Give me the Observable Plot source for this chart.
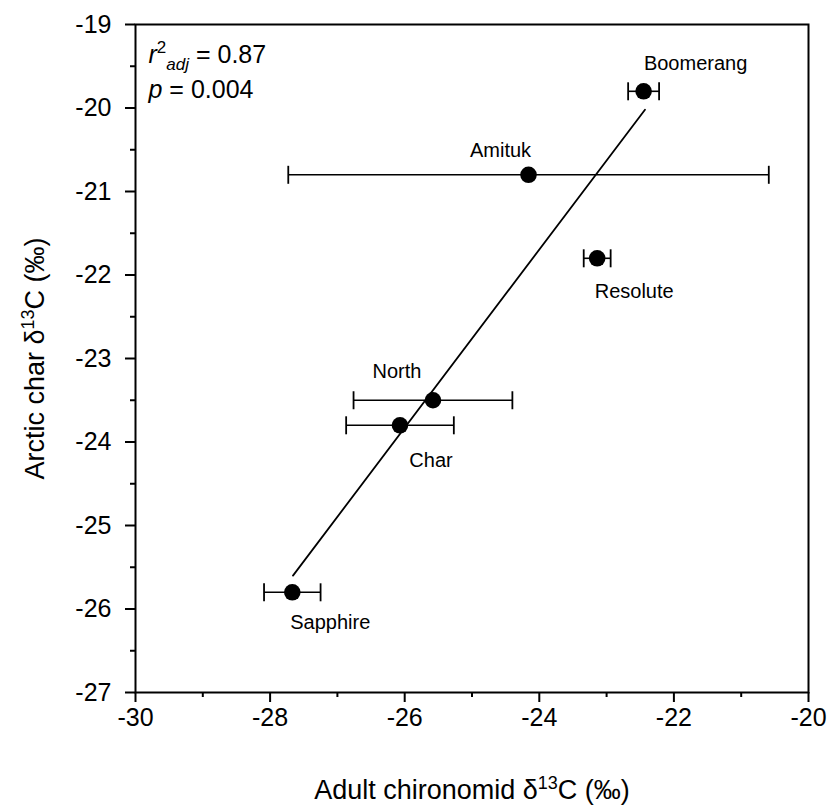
<!DOCTYPE html>
<html>
<head>
<meta charset="utf-8">
<script src="https://cdn.jsdelivr.net/npm/d3@7"></script>
<script src="https://cdn.jsdelivr.net/npm/@observablehq/plot@0.6"></script>
<style>
  html, body { margin: 0; padding: 0; background: #fff; }
</style>
</head>
<body>
<div id="chart"></div>
<script>
// ---- data ----
const sites = ["Boomerang", "Amituk", "Resolute", "North", "Char", "Sapphire"];
const chironomidD13C = [-22.45, -24.16, -23.14, -25.58, -26.07, -27.67];
const arcticCharD13C = [-19.8, -20.8, -21.8, -23.5, -23.8, -25.8];
const chironomidErr = [0.23, 3.57, 0.2, 1.18, 0.8, 0.42];
const fitX = [-27.66, -22.43];
const fitY = [-25.6, -20.02];
const xTicks = [-30, -28, -26, -24, -22, -20];
const xMinorTicks = [-29, -27, -25, -23, -21];
const yTicks = [-27, -26, -25, -24, -23, -22, -21, -20, -19];
const yMinorTicks = [-26.5, -25.5, -24.5, -23.5, -22.5, -21.5, -20.5, -19.5];
const statR2 = "0.87";
const statP = "0.004";
const xTitle = "Adult chironomid δ13C (‰)";
const yTitle = "Arctic char δ13C (‰)";

// ---- layout (label offsets in px) ----
const labelOffset = {
  Boomerang: [52, -28], Amituk: [-28, -24], Resolute: [37, 33],
  North: [-36, -29], Char: [31, 35], Sapphire: [38, 30]
};

const idx = sites.map((_, i) => i);
const capData = idx.flatMap(i => [
  {x: chironomidD13C[i] - chironomidErr[i], y: arcticCharD13C[i]},
  {x: chironomidD13C[i] + chironomidErr[i], y: arcticCharD13C[i]}
]);
const capSymbol = {
  draw(ctx, size) {
    const h = Math.sqrt(size / Math.PI);
    ctx.moveTo(0, -h);
    ctx.lineTo(0, h);
  }
};
const fmt = d => String(d);

const labelMarks = idx.map(i => Plot.text([i], {
  x: j => chironomidD13C[j], y: j => arcticCharD13C[j], text: j => sites[j],
  dx: labelOffset[sites[i]][0], dy: labelOffset[sites[i]][1],
  fontSize: 20, fill: "black", textAnchor: "middle", lineAnchor: "middle"
}));

const r2String = "r2adj = " + statR2;
const pString = "p = " + statP;

const svg = Plot.plot({
  width: 829,
  height: 809,
  marginLeft: 135,
  marginRight: 21,
  marginTop: 24,
  marginBottom: 117,
  style: {fontFamily: "'Liberation Sans', Arial, sans-serif", fontSize: "25px", color: "black", background: "white"},
  x: {domain: [-30, -20]},
  y: {domain: [-27, -19]},
  marks: [
    Plot.axisX(xTicks, {tickSize: 10, tickPadding: 6, tickFormat: fmt, strokeWidth: 2, label: null}),
    Plot.axisX(xMinorTicks, {tickSize: 5, tickFormat: () => "", strokeWidth: 2, label: null}),
    Plot.axisY(yTicks, {tickSize: 10, tickPadding: 14, tickFormat: fmt, strokeWidth: 2, label: null}),
    Plot.axisY(yMinorTicks, {tickSize: 5, tickFormat: () => "", strokeWidth: 2, label: null}),
    Plot.frame({stroke: "black", strokeWidth: 2}),
    Plot.line([0, 1], {x: i => fitX[i], y: i => fitY[i], stroke: "black", strokeWidth: 1.8}),
    Plot.link(idx, {
      x1: i => chironomidD13C[i] - chironomidErr[i], x2: i => chironomidD13C[i] + chironomidErr[i],
      y1: i => arcticCharD13C[i], y2: i => arcticCharD13C[i], stroke: "black", strokeWidth: 1.6
    }),
    Plot.dot(capData, {x: "x", y: "y", symbol: capSymbol, r: 9, stroke: "black", strokeWidth: 1.8, fill: "none"}),
    Plot.dot(idx, {x: i => chironomidD13C[i], y: i => arcticCharD13C[i], r: 8.3, fill: "black", stroke: "none"}),
    ...labelMarks,
    Plot.text([r2String], {text: d => d, frameAnchor: "top-left", dx: 13, dy: 30, textAnchor: "start", lineAnchor: "middle", fontSize: 25}),
    Plot.text([pString], {text: d => d, frameAnchor: "top-left", dx: 13, dy: 65, textAnchor: "start", lineAnchor: "middle", fontSize: 25}),
    Plot.text([xTitle], {text: d => d, frameAnchor: "bottom", dy: 98, textAnchor: "middle", lineAnchor: "middle", fontSize: 27}),
    Plot.text([yTitle], {text: d => d, frameAnchor: "left", dx: -100, rotate: -90, textAnchor: "middle", lineAnchor: "middle", fontSize: 27})
  ]
});

// rich text (superscripts / subscripts / italics)
function setRich(el, parts) {
  if (!el) return;
  while (el.firstChild) el.removeChild(el.firstChild);
  let shift = 0;
  for (const p of parts) {
    const ts = document.createElementNS("http://www.w3.org/2000/svg", "tspan");
    const target = p.shift || 0;
    if (target !== shift) { ts.setAttribute("dy", target - shift); shift = target; }
    if (p.size) ts.setAttribute("font-size", p.size);
    if (p.italic) ts.setAttribute("font-style", "italic");
    ts.textContent = p.t;
    el.appendChild(ts);
  }
}
const findText = s => Array.from(svg.querySelectorAll("text")).find(t => t.textContent === s);
setRich(findText(r2String), [
  {t: "r", italic: true},
  {t: "2", size: 17, shift: -10},
  {t: "adj", size: 17, italic: true, shift: 7},
  {t: " = " + statR2, shift: 0}
]);
setRich(findText(pString), [
  {t: "p", italic: true},
  {t: " = " + statP}
]);
const splitTitle = s => { const k = s.indexOf("13"); return [s.slice(0, k), s.slice(k + 2)]; };
const [xa, xb] = splitTitle(xTitle);
setRich(findText(xTitle), [{t: xa}, {t: "13", size: 18, shift: -10}, {t: xb, shift: 0}]);
const [ya, yb] = splitTitle(yTitle);
setRich(findText(yTitle), [{t: ya}, {t: "13", size: 18, shift: -10}, {t: yb, shift: 0}]);

document.getElementById("chart").appendChild(svg);
</script>
</body>
</html>
